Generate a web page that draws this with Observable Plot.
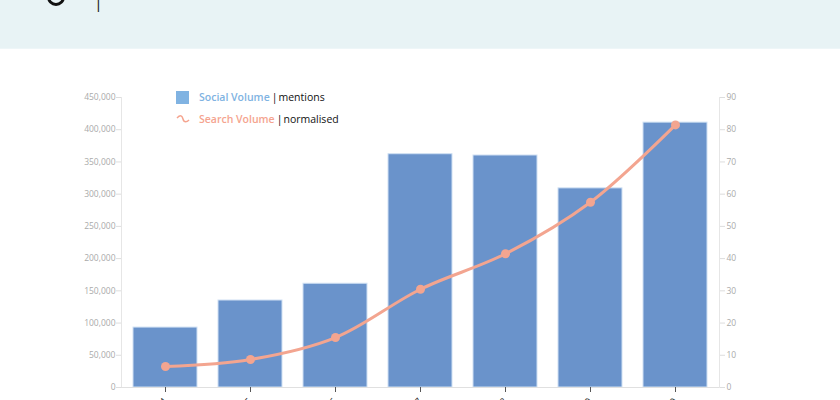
<!DOCTYPE html>
<html>
<head>
<meta charset="utf-8">
<script src="https://cdn.jsdelivr.net/npm/d3@7"></script>
<script src="https://cdn.jsdelivr.net/npm/@observablehq/plot@0.6"></script>
<style>
  body { margin: 0; width: 840px; height: 400px; overflow: hidden; background: #fff; font-family: "Open Sans", "Noto Sans", sans-serif; }
  #header { position: absolute; left: 0; top: 0; width: 840px; height: 48px; background: #e8f3f5; border-bottom: 1px solid #eef6f8; overflow: hidden; }
  #logo { position: absolute; left: 47px; top: -12px; width: 12px; height: 12px; border: 3px solid #111; border-radius: 50%; }
  #bar { position: absolute; left: 94px; top: -9px; font-size: 16px; color: #222; }
  #chart { position: absolute; left: 0; top: 48px; }
  #legend { position: absolute; left: 176px; top: 86px; font-size: 10.5px; line-height: 22px; color: #111; }
  .row { display: flex; align-items: center; height: 22px; }
  .sw { width: 13px; height: 13px; background: #80b3e2; margin-right: 10px; }
  .wave { width: 14px; margin-right: 9px; }
  .sv { color: #80b3e2; font-weight: 600; margin-right: 2px; }
  .se { color: #f5a48f; font-weight: 600; margin-right: 2px; }
  .sep { margin-right: 1px; }
</style>
</head>
<body>
<div id="header"><div id="logo"></div><div id="bar">|</div></div>
<div id="chart"></div>
<div id="legend">
  <div class="row"><div class="sw"></div><span class="sv">Social Volume</span><span class="sep">|</span>mentions</div>
  <div class="row"><svg class="wave" width="14" height="8" viewBox="0 0 14 8"><path d="M1,3 C4,0 6,0 7,4 C8,8 11,7 13,5" fill="none" stroke="#f5a48f" stroke-width="1.5"/></svg><span class="se">Search Volume</span><span class="sep">|</span>normalised</div>
</div>
<script>
const periods = ["2014", "2015", "2016", "2017", "2018", "2019", "2020"];
const socialVolume = [93000, 135000, 161000, 362000, 360000, 309000, 411000];
const searchVolume = [6.5, 8.7, 15.5, 30.5, 41.5, 57.5, 81.5];
const rightMax = 90;
const leftMax = 450000;
const k = leftMax / rightMax;

const data = periods.map((p, i) => ({period: p, social: socialVolume[i], search: searchVolume[i]}));

const chart = Plot.plot({
  width: 840,
  height: 352,
  marginLeft: 121,
  marginRight: 121,
  marginTop: 49,
  marginBottom: 13,
  style: {fontFamily: "'Open Sans', sans-serif", overflow: "hidden"},
  x: {domain: periods, paddingInner: 0.25, paddingOuter: 0.125, label: null},
  y: {domain: [0, leftMax], label: null},
  marks: [
    Plot.barY(data, {x: "period", y: "social", fill: "#6a93cb", stroke: "#cfe0f3", strokeWidth: 1}),
    Plot.frame({anchor: "left", stroke: "#e6e6e6"}),
    Plot.frame({anchor: "right", stroke: "#e6e6e6"}),
    Plot.ruleY([0], {stroke: "#e0e0e0"}),
    Plot.axisY({anchor: "left", ticks: d3.range(0, leftMax + 1, 50000), tickFormat: d3.format(","), tickSize: 5, tickPadding: 1, stroke: "#ddd", color: "#aaa", fontSize: 8.5, label: null}),
    Plot.axisY({anchor: "right", ticks: d3.range(0, leftMax + 1, 50000), tickFormat: d => d3.format("d")(d / k), tickSize: 5, tickPadding: 2, stroke: "#ddd", color: "#aaa", fontSize: 8.5, label: null}),
    Plot.axisX({tickSize: 5, tickRotate: -50, stroke: "#555", color: "#222", fontSize: 10, tickPadding: 7, label: null}),
    Plot.line(data, {x: "period", y: d => d.search * k, stroke: "#f3a590", strokeWidth: 3, curve: "catmull-rom"}),
    Plot.dot(data, {x: "period", y: d => d.search * k, fill: "#f3a590", r: 4.5})
  ]
});
document.getElementById("chart").appendChild(chart);
</script>
</body>
</html>
